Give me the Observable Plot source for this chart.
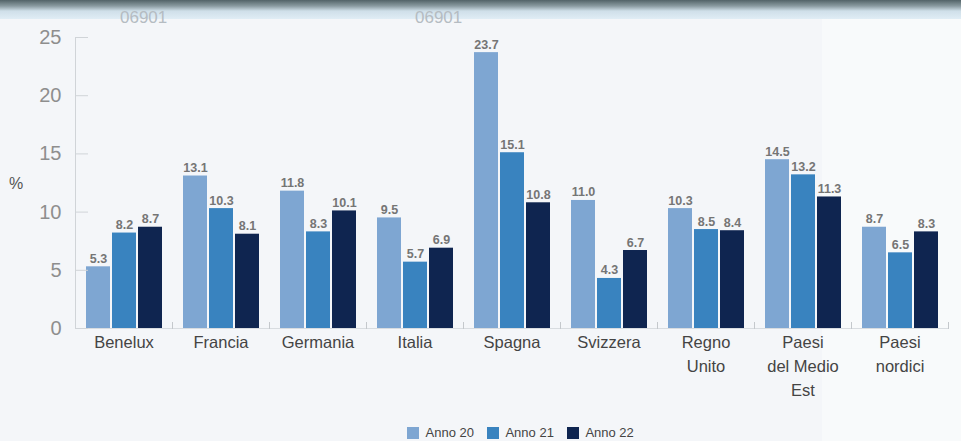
<!DOCTYPE html>
<html>
<head>
<meta charset="utf-8">
<script src="https://cdn.jsdelivr.net/npm/d3@7"></script>
<script src="https://cdn.jsdelivr.net/npm/@observablehq/plot@0.6"></script>
<style>
  html, body { margin: 0; padding: 0; }
  body { width: 961px; height: 441px; overflow: hidden; position: relative; background: #f4f6f9; font-family: "Liberation Sans", Arial, sans-serif; }
  #panel { position: absolute; left: 822px; top: 18px; width: 139px; height: 423px; background: #f8fafb; }
  #header { position: absolute; left: 0; top: 0; width: 961px; height: 19px; background: linear-gradient(#526368 0px, #8a9ba1 6px, #cfdfe9 11px, #e0edf5 19px); z-index: 0; }
  .wm { position: absolute; top: 8px; font-size: 17px; color: #b5bcc2; font-family: "Liberation Sans", Arial, sans-serif; z-index: 2; }
  #chart { position: absolute; left: 0; top: 0; z-index: 1; }
  #pct { position: absolute; left: 9px; top: 175px; font-size: 16px; color: #555; z-index: 3; }
  #legend { position: absolute; left: 407px; top: 416px; z-index: 3; }
  #legend > * { margin: 0 !important; }
  #legend div, #legend span { font-size: 13px !important; color: #444; font-family: "Liberation Sans", Arial, sans-serif !important; }
</style>
</head>
<body>
<div id="panel"></div>
<div id="header"></div>
<span class="wm" style="left:120px">06901</span><span class="wm" style="left:415px">06901</span>
<div id="chart"></div>
<div id="pct">%</div>
<div id="legend"></div>
<script>
const countries = ["Benelux", "Francia", "Germania", "Italia", "Spagna", "Svizzera", "Regno Unito", "Paesi del Medio Est", "Paesi nordici"];
const countryLabels = ["Benelux", "Francia", "Germania", "Italia", "Spagna", "Svizzera", "Regno\nUnito", "Paesi\ndel Medio\nEst", "Paesi\nnordici"];
const years = ["Anno 20", "Anno 21", "Anno 22"];
const anno20 = [5.3, 13.1, 11.8, 9.5, 23.7, 11.0, 10.3, 14.5, 8.7];
const anno21 = [8.2, 10.3, 8.3, 5.7, 15.1, 4.3, 8.5, 13.2, 6.5];
const anno22 = [8.7, 8.1, 10.1, 6.9, 10.8, 6.7, 8.4, 11.3, 8.3];
const yTicks = [0, 5, 10, 15, 20, 25];
const colors = ["#7ea6d2", "#3983bf", "#0f2550"];

const series = [anno20, anno21, anno22];
const rows = [];
countries.forEach((c, i) => years.forEach((y, j) => rows.push({country: c, year: y, value: series[j][i]})));
const labelOf = new Map(countries.map((c, i) => [c, countryLabels[i]]));

const W = 961, H = 420, MT = 37, MB = 92, ML = 72, MR = 10;
const innerH = H - MT - MB;

const chart = Plot.plot({
  width: W, height: H,
  marginTop: MT, marginBottom: MB, marginLeft: ML, marginRight: MR,
  style: {background: "transparent", fontFamily: "Liberation Sans, Arial, sans-serif"},
  fx: {domain: countries, padding: 0},
  x: {domain: years, paddingInner: 0.08, paddingOuter: 0.38, axis: null},
  y: {domain: [0, 25]},
  color: {domain: years, range: colors},
  marks: [
    Plot.ruleY([0], {stroke: "#d8dce0"}),
    Plot.frame({anchor: "right", stroke: "#c4c8cc", insetTop: innerH - 6}),
    Plot.frame({anchor: "left", stroke: "#d0d4d8", fx: countries[0]}),
    Plot.barY(rows, {fx: "country", x: "year", y: "value", fill: "year"}),
    Plot.text(rows, {fx: "country", x: "year", y: "value", text: d => d.value.toFixed(1), lineAnchor: "bottom", dy: -4, fontSize: 12.5, fontWeight: "bold", fill: "#757575"}),
    Plot.axisY({ticks: yTicks, tickSize: 0, tickPadding: 14, fontSize: 20, color: "#8e8e8e", label: null}),
    Plot.axisY({ticks: yTicks, tickSize: -13, tickFormat: () => "", label: null, color: "#d0d4d8"}),
    Plot.axisFx({anchor: "bottom", tickSize: 0, tickPadding: 3, fontSize: 16.5, color: "#444", label: null, lineHeight: 1.45, tickFormat: d => labelOf.get(d)})
  ]
});
document.getElementById("chart").appendChild(chart);

const legend = Plot.legend({color: {domain: years, range: colors, type: "ordinal"}, legend: "swatches", swatchSize: 12, style: {fontSize: "13px", color: "#444"}});
document.getElementById("legend").appendChild(legend);
</script>
</body>
</html>
